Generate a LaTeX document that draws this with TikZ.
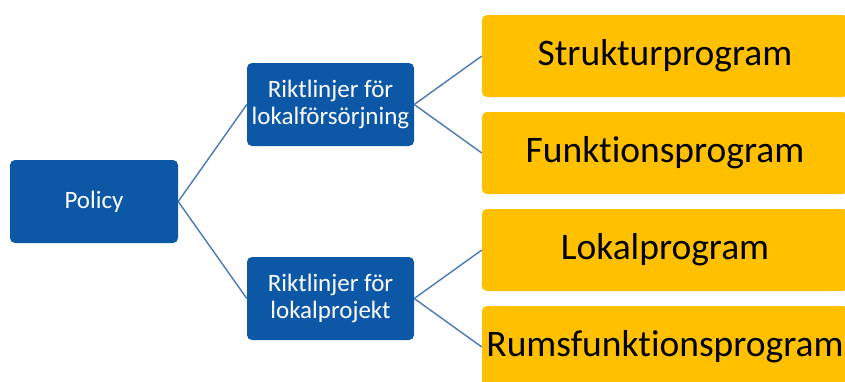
\documentclass[tikz,border=0pt]{standalone}
\usepackage{fontspec}
\setmainfont[Ligatures={NoCommon}]{Carlito}
\definecolor{boxblue}{RGB}{12,88,166}
\definecolor{boxgold}{RGB}{255,192,0}
\definecolor{linkblue}{RGB}{74,122,182}
\tikzset{
  bluebox/.style={fill=boxblue, rounded corners=5pt, minimum width=167pt, minimum height=83pt,
    text=white, align=center, inner sep=0pt, font=\fontsize{25}{27.5}\selectfont},
  goldbox/.style={fill=boxgold, rounded corners=5pt, minimum width=366pt, minimum height=82pt,
    text=black, inner sep=0pt, font=\fontsize{37.5}{43}\selectfont},
  link/.style={draw=linkblue, line width=1.4pt}
}
\begin{document}
\begin{tikzpicture}[x=1pt,y=-1pt]
\useasboundingbox (0,0) rectangle (845,381);
\clip (0,0) rectangle (845,381);
\fill[white] (0,0) rectangle (845,381);
\node[bluebox, minimum width=168pt] (pol) at (94,201.5) {Policy};
\node[bluebox] (r1) at (330.5,104.5) {Riktlinjer för\\lokalförsörjning};
\node[bluebox] (r2) at (330.5,298.5) {Riktlinjer för\\lokalprojekt};
\node[goldbox] (s1) at (665,56) {Strukturprogram};
\node[goldbox] (s2) at (665,153) {Funktionsprogram};
\node[goldbox] (s3) at (665,250) {Lokalprogram};
\node[goldbox] (s4) at (665,347) {Rumsfunktionsprogram};
\draw[link] (pol.east) -- (r1.west);
\draw[link] (pol.east) -- (r2.west);
\draw[link] (r1.east) -- (s1.west);
\draw[link] (r1.east) -- (s2.west);
\draw[link] (r2.east) -- (s3.west);
\draw[link] (r2.east) -- (s4.west);
\end{tikzpicture}
\end{document}
